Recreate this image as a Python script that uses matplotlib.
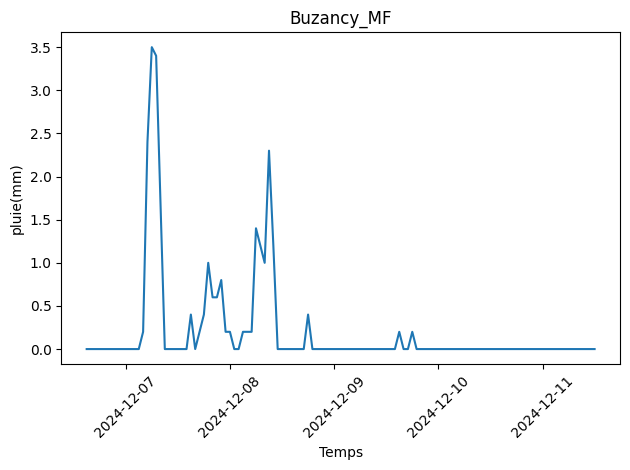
"""
Pluie horaire - station Buzancy_MF
"""

import numpy as np
import pandas as pd
import matplotlib
matplotlib.use("Agg")
import matplotlib.pyplot as plt

# ── Data (hourly rain, mm) ─────────────────────────
START = "2024-12-06 15:00"

pluie_06 = [0, 0, 0, 0, 0, 0, 0, 0, 0]                      # 15h -> 23h
pluie_07 = [0, 0, 0, 0, 0.2, 2.4, 3.5, 3.4, 1.7, 0, 0, 0,
            0, 0, 0, 0.4, 0, 0.2, 0.4, 1.0, 0.6, 0.6, 0.8, 0.2]
pluie_08 = [0.2, 0, 0, 0.2, 0.2, 0.2, 1.4, 1.2, 1.0, 2.3, 1.2, 0,
            0, 0, 0, 0, 0, 0, 0.4, 0, 0, 0, 0, 0]
pluie_09 = [0, 0, 0, 0, 0, 0, 0, 0, 0, 0, 0, 0,
            0, 0, 0, 0.2, 0, 0, 0.2, 0, 0, 0, 0, 0]
pluie_10 = [0] * 24
pluie_11 = [0] * 13                                          # 00h -> 12h

pluie = pluie_06 + pluie_07 + pluie_08 + pluie_09 + pluie_10 + pluie_11
temps = pd.date_range(START, periods=len(pluie), freq="h")

# ── Plot ───────────────────────────────────────────
fig, ax = plt.subplots(figsize=(6.4, 4.8), dpi=100)
ax.plot(temps, pluie)
ax.set_title("Buzancy_MF")
ax.set_xlabel("Temps")
ax.set_ylabel("pluie(mm)")
plt.xticks(rotation=45)
plt.tight_layout()
plt.savefig("out.png", dpi=100, bbox_inches="tight")
